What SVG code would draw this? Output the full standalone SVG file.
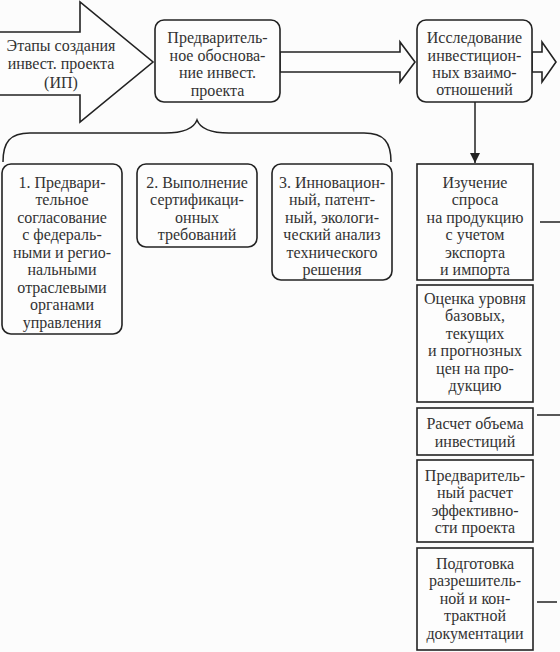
<svg xmlns="http://www.w3.org/2000/svg" width="560" height="652" viewBox="0 0 560 652">
<defs>
<style>
.bx{fill:#fdfdfd;stroke:#222;stroke-width:1.6}
.ln{fill:none;stroke:#222;stroke-width:1.5}
.t text{font-size:16px;fill:#333;text-anchor:middle}
</style>
<marker id="ah" viewBox="0 0 10 10" refX="10" refY="5" markerWidth="10" markerHeight="10" markerUnits="userSpaceOnUse" orient="auto">
<path d="M0,0 L10,5 L0,10 Z" fill="#222"/>
</marker>
</defs>
<rect x="0" y="0" width="560" height="652" fill="#fcfcfc"/>
<g class="t" font-family="Liberation Serif, Times New Roman, serif">

<g id="stages-arrow">
<polygon class="bx" points="-2,32 80,32 80,2 153,62 80,122 80,95 -2,95"/>
<text x="61" y="51">Этапы создания</text>
<text x="61" y="69">инвест. проекта</text>
<text x="61" y="88">(ИП)</text>
</g>

<g id="connectors">
<polygon class="bx" points="280,52 400,52 400,42 415,62 400,82 400,72 280,72"/>
<polygon class="bx" points="532,52 542,52 542,42 556,62 542,82 542,72 532,72"/>
<line class="ln" x1="475" y1="102" x2="475" y2="163" marker-end="url(#ah)"/>
<path class="ln" d="M3,162 C3,142 10,133 30,133 L165,133 C185,133 194,128 197,120 C200,128 209,133 229,133 L364,133 C384,133 391,142 391,162"/>
<line class="ln" x1="540" y1="222" x2="560" y2="222"/>
<line class="ln" x1="537" y1="415" x2="560" y2="415"/>
<line class="ln" x1="537" y1="602" x2="557" y2="602"/>
</g>

<g id="preliminary">
<rect class="bx" x="155" y="20" width="125" height="82" rx="9"/>
<text x="217.5" y="43">Предваритель-</text>
<text x="217.5" y="60.5">ное обоснова-</text>
<text x="217.5" y="78">ние инвест.</text>
<text x="217.5" y="95.5">проекта</text>
</g>

<g id="research">
<rect class="bx" x="417" y="20" width="115" height="82" rx="9"/>
<text x="474.5" y="43">Исследование</text>
<text x="474.5" y="60.5">инвестицион-</text>
<text x="474.5" y="78">ных взаимо-</text>
<text x="474.5" y="95">отношений</text>
</g>

<g id="step1">
<rect class="bx" x="2" y="164" width="120" height="170" rx="9"/>
<text x="62" y="187.5">1. Предвари-</text>
<text x="62" y="205">тельное</text>
<text x="62" y="222.5">согласование</text>
<text x="62" y="240">с федераль-</text>
<text x="62" y="257.5">ными и регио-</text>
<text x="62" y="275">нальными</text>
<text x="62" y="292.5">отраслевыми</text>
<text x="62" y="310">органами</text>
<text x="62" y="327.5">управления</text>
</g>

<g id="step2">
<rect class="bx" x="137" y="164" width="120" height="83" rx="9"/>
<text x="197" y="187.5">2. Выполнение</text>
<text x="197" y="205">сертификаци-</text>
<text x="197" y="222.5">онных</text>
<text x="197" y="240">требований</text>
</g>

<g id="step3">
<rect class="bx" x="272" y="164" width="120" height="116" rx="9"/>
<text x="332" y="187.5">3. Инновацион-</text>
<text x="332" y="205">ный, патент-</text>
<text x="332" y="222.5">ный, экологи-</text>
<text x="332" y="240">ческий анализ</text>
<text x="332" y="257.5">технического</text>
<text x="332" y="275">решения</text>
</g>

<g id="demand">
<rect class="bx" x="417" y="164" width="116" height="116"/>
<text x="475" y="187.5">Изучение</text>
<text x="475" y="205">спроса</text>
<text x="475" y="222.5">на продукцию</text>
<text x="475" y="240">с учетом</text>
<text x="475" y="257.5">экспорта</text>
<text x="475" y="275">и импорта</text>
</g>

<g id="prices">
<rect class="bx" x="417" y="285" width="116" height="117"/>
<text x="475" y="303.5">Оценка уровня</text>
<text x="475" y="321">базовых,</text>
<text x="475" y="338.5">текущих</text>
<text x="475" y="356">и прогнозных</text>
<text x="475" y="373.5">цен на про-</text>
<text x="475" y="391">дукцию</text>
</g>

<g id="investment">
<rect class="bx" x="417" y="408" width="116" height="47"/>
<text x="475" y="428.5">Расчет объема</text>
<text x="475" y="446.5">инвестиций</text>
</g>

<g id="efficiency">
<rect class="bx" x="417" y="460" width="116" height="82"/>
<text x="475" y="480.5">Предваритель-</text>
<text x="475" y="498">ный расчет</text>
<text x="475" y="515.5">эффективно-</text>
<text x="475" y="533">сти проекта</text>
</g>

<g id="documents">
<rect class="bx" x="417" y="548" width="116" height="102"/>
<text x="475" y="568.5">Подготовка</text>
<text x="475" y="586">разрешитель-</text>
<text x="475" y="603.5">ной и кон-</text>
<text x="475" y="621">трактной</text>
<text x="475" y="638.5">документации</text>
</g>
</g>
</svg>
